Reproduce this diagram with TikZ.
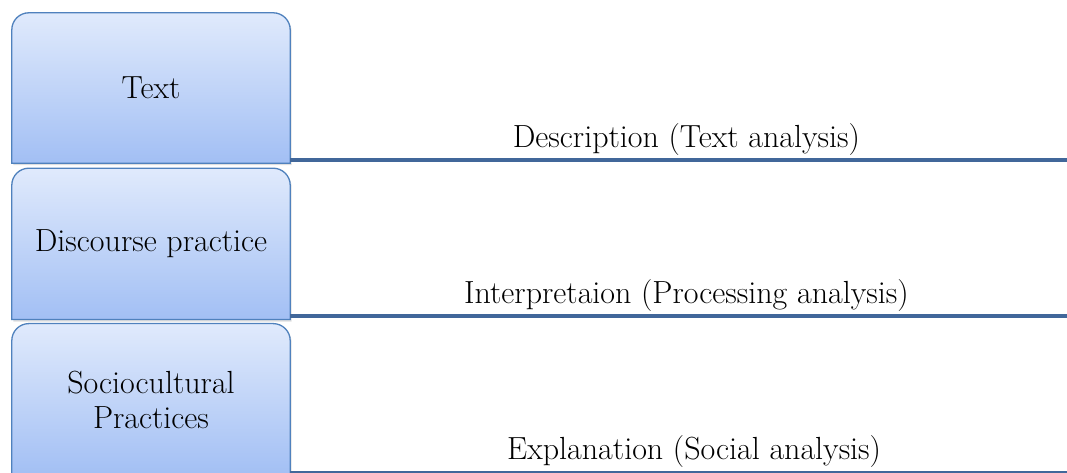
\documentclass[tikz,border=0pt]{standalone}
\usepackage{xcolor}
\usepackage{tikz}
\usetikzlibrary{positioning,shadows,backgrounds}

\definecolor{boxtop}{HTML}{E0EAFC}
\definecolor{boxbottom}{HTML}{A2BFF4}
\definecolor{boxedge}{HTML}{4F81BD}
\definecolor{barblue}{HTML}{41679A}

\tikzset{
  levelbox/.style={minimum width=278pt, minimum height=150pt, inner sep=0pt,
    align=center, font=\fontsize{32}{35}\selectfont},
  boxpath/.style={draw=boxedge, line width=1.3pt, top color=boxtop, bottom color=boxbottom,
    drop shadow={opacity=0.25, shadow xshift=1.5pt, shadow yshift=-2pt}},
  bar/.style={draw=barblue, line width=4.5pt},
  thinbar/.style={draw=barblue, line width=1.8pt},
  barlabel/.style={anchor=base, yshift=12pt, font=\fontsize{32}{35}\selectfont}
}

\begin{document}
\begin{tikzpicture}[x=1pt, y=1pt]
        \useasboundingbox (0,0) rectangle (1067,473);
        \clip (0,0) rectangle (1067,473);
        \node[levelbox] (text) at (151,385) {Text};
        \node[levelbox, below=5pt of text, minimum height=151pt] (disc) {Discourse practice};
        \node[levelbox, below=4pt of disc, minimum height=152pt] (socio) {Sociocultural\\Practices};
        \begin{scope}[on background layer]
          \foreach \b in {text, disc, socio}
            \path[boxpath] (\b.south west) [rounded corners=17pt] -- (\b.north west)
              -- (\b.north east) [sharp corners] -- (\b.south east) -- cycle;
        \end{scope}
        \coordinate (end1) at (1067,313);
        \coordinate (end2) at (1067,157);
        \coordinate (end3) at (1067,1.3);
        \draw[bar] (text.east |- end1) -- (end1)
          node[barlabel, pos=0.51] (descr) {Description (Text analysis)};
        \draw[bar] (disc.east |- end2) -- (end2)
          node[barlabel, pos=0.51] (interp) {Interpretaion (Processing analysis)};
        \draw[thinbar] (socio.east |- end3) -- (end3)
          node[barlabel, pos=0.52] (expl) {Explanation (Social analysis)};
      \end{tikzpicture}
\end{document}
